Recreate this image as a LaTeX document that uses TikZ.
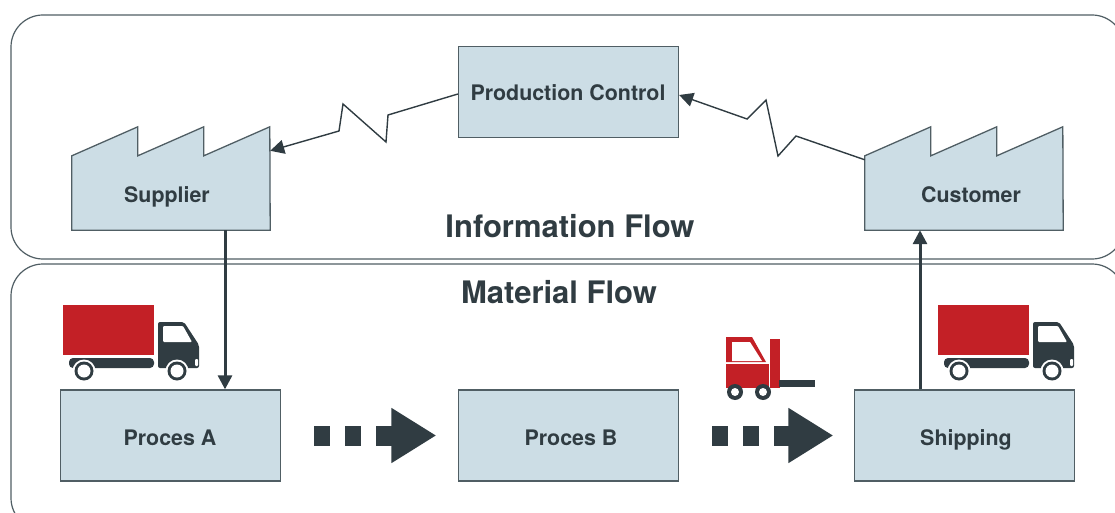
\documentclass[tikz,border=0pt]{standalone}
\usepackage{fontspec}
\setmainfont{TeX Gyre Heros}
\usetikzlibrary{arrows.meta}
\definecolor{darkgrey}{HTML}{303C42}
\definecolor{boxblue}{HTML}{CCDDE5}
\definecolor{boxline}{HTML}{505E64}
\definecolor{truckred}{HTML}{C32026}

\begin{document}
\begin{tikzpicture}[x=1pt,y=-1pt]
    \tikzset{%
      panel/.style={draw=boxline, line width=1.2pt, rounded corners=32pt},
      box/.style={rectangle, draw=boxline, fill=boxblue, line width=1.3pt,
        minimum width=220pt, minimum height=91pt, inner sep=0pt},
      factory/.style={rectangle, inner sep=0pt, minimum width=198pt,
        minimum height=74pt},
      factshape/.style={draw=boxline, fill=boxblue, line width=1.3pt},
      lbl/.style={anchor=base, text=darkgrey, inner sep=0pt,
        font=\fontsize{21.4}{25}\selectfont\bfseries},
      head/.style={anchor=base, text=darkgrey, inner sep=0pt,
        font=\fontsize{31}{36}\selectfont\bfseries},
      link/.style={draw=darkgrey, line width=1.4pt,
        -{Triangle[length=14pt,width=14pt]}},
      uplink/.style={draw=darkgrey, line width=3pt,
        -{Triangle[length=14pt,width=14pt]}},
      flow/.style={draw=darkgrey, line width=20pt, shorten <=33pt,
        dash pattern=on 16pt off 15pt, shorten >=21.5pt,
        -{Triangle[length=45pt,width=52pt]}},
      truck/.pic={
        \fill[truckred] (0,0) rectangle (91,50);
        \fill[darkgrey, rounded corners=4pt] (6,63) -- (6,53) -- (91,53)
          -- (91,63) -- cycle;
        \fill[darkgrey, rounded corners=2pt] (95,63) -- (95,17) -- (121,17)
          -- (136,40) -- (136,63) -- cycle;
        \fill[white, rounded corners=1pt] (100,21) -- (120,21) -- (129,37)
          -- (100,37) -- cycle;
        \fill[white, rounded corners=1pt] (132,54) rectangle (135,61);
        \foreach \wx in {21,114} {
          \fill[white] (\wx,66) circle (11.5);
          \fill[darkgrey] (\wx,66) circle (9.5);
          \fill[white] (\wx,66) circle (6.5);
        }
      },
    }
    \useasboundingbox (0,0) rectangle (1115,513);

    % the two areas
    \draw[panel] (11,15) rectangle (1124,259);
    \draw[panel] (11,264) rectangle (1124,530);

    \node[head] (InfoFlow) at (570,237) {Information Flow};
    \node[head] (MatFlow) at (559,303) {Material Flow};

    \node[box] (Control) at (568.5,92) {};
    \node[lbl] (ControlText) at (568,101) {Production Control};

    \node[factory] (Supplier) at (171,193) {};
    \draw[factshape] (Supplier.south west) -- (Supplier.north west)
      -- ++(66,-29) -- ++(0,29) -- ++(66,-29) -- ++(0,29) -- ++(66,-29)
      -- (Supplier.south east) -- cycle;
    \node[lbl] (SupplierText) at (167,202) {Supplier};

    \node[factory] (Customer) at (964,193) {};
    \draw[factshape] (Customer.south west) -- (Customer.north west)
      -- ++(66,-29) -- ++(0,29) -- ++(66,-29) -- ++(0,29) -- ++(66,-29)
      -- (Customer.south east) -- cycle;
    \node[lbl] (CustomerText) at (971,202) {Customer};

    \node[box] (ProcA) at (170.5,435.5) {};
    \node[lbl] (ProcAText) at (170,445) {Proces A};
    \node[box] (ProcB) at (568.5,435.5) {};
    \node[lbl] (ProcBText) at (571,445) {Proces B};
    \node[box] (Shipping) at (964.5,435.5) {};
    \node[lbl] (ShippingText) at (966,445) {Shipping};

    % information lines
    \draw[link] ([yshift=-2pt]Control.west) -- (388,115) -- (386,142)
      -- (343,104) -- (339,131) -- ([yshift=5pt]Supplier.north east);
    \draw[link] ([yshift=-4pt]Customer.north west) -- (796,136) -- (778,156)
      -- (766,100) -- (747,119) -- ([yshift=-3pt]Control.east);

    \draw[uplink] ([xshift=54pt]Supplier.south)
      -- ([xshift=54pt]Supplier.south |- ProcA.north);
    \draw[uplink] ([xshift=-44.5pt]Shipping.north)
      -- ([xshift=-44.5pt]Shipping.north |- Customer.south);

    % material flow
    \draw[flow] (ProcA.east) -- (ProcB.west);
    \draw[flow, shorten >=20.5pt] (ProcB.east) -- (Shipping.west);

    \pic at (63,305) {truck};
    \pic at (938,305) {truck};

    % fork lift
    \fill[truckred] (726,337) -- (752,337) -- (766,362) -- (726,362) -- cycle;
    \fill[white] (732,342) -- (750,342) -- (762,361) -- (732,361) -- cycle;
    \fill[truckred] (726,364) rectangle (769,388);
    \fill[truckred] (770,339) rectangle (780,388);
    \fill[darkgrey] (779,380) rectangle (815,387);
    \foreach \wx in {735,763} {
      \fill[darkgrey] (\wx,392) circle (8);
      \fill[white] (\wx,392) circle (4);
    }
\end{tikzpicture}
\end{document}
